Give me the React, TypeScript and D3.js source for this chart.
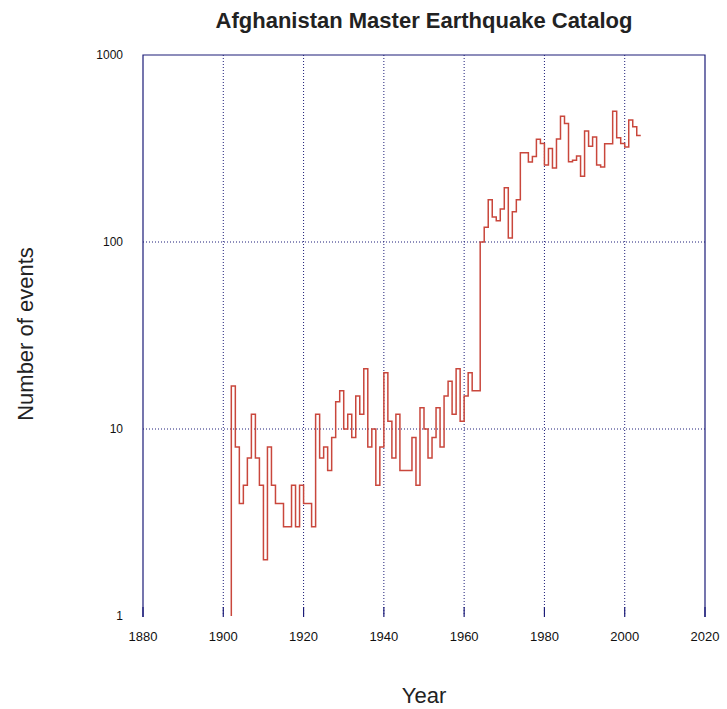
import { useEffect, useRef } from "react";
import * as d3 from "d3";

// Number of events per year
const years = d3.range(1902, 2004);
const counts = [
  17, 8, 4, 5, 7, 12, 7, 5, 2, 8, // 1902-1911
  5, 4, 4, 3, 3, 5, 3, 5, 4, 4, // 1912-1921
  3, 12, 7, 8, 6, 9, 14, 16, 10, 12, // 1922-1931
  9, 15, 12, 21, 8, 10, 5, 8, 20, 11, // 1932-1941
  7, 12, 6, 6, 6, 9, 5, 13, 10, 7, // 1942-1951
  9, 13, 8, 15, 18, 12, 21, 11, 15, 20, // 1952-1961
  16, 16, 100, 120, 168, 136, 130, 150, 195, 105, // 1962-1971
  145, 168, 300, 300, 268, 287, 354, 336, 258, 316, // 1972-1981
  249, 355, 470, 430, 269, 274, 288, 225, 392, 325, // 1982-1991
  364, 258, 252, 335, 335, 500, 361, 336, 322, 449, // 1992-2001
  413, 371, // 2002-2003
];
const xTicks = [1880, 1900, 1920, 1940, 1960, 1980, 2000, 2020];
const yTicks = [1, 10, 100, 1000];

const App = () => {
  const svgRef = useRef(null);

  useEffect(() => {
    d3.select(svgRef.current).selectAll("*").remove();

    const width = 727;
    const height = 709;
    const left = 143;
    const right = 705;
    const top = 55;
    const bottom = 616;
    const frame = "#1c1c78";
    const font = "'Liberation Sans', Arial, sans-serif";

    const x = d3.scaleLinear().domain([1880, 2020]).range([left, right]);
    const y = d3.scaleLog().domain([1, 1000]).range([bottom, top]);

    const svg = d3
      .select(svgRef.current)
      .attr("width", width)
      .attr("height", height);

    // dotted grid
    svg
      .append("g")
      .selectAll("line")
      .data(xTicks.slice(1, -1))
      .join("line")
      .attr("x1", (d) => x(d))
      .attr("x2", (d) => x(d))
      .attr("y1", top)
      .attr("y2", bottom)
      .attr("stroke", frame)
      .attr("stroke-width", 1)
      .attr("stroke-dasharray", "1,2");

    svg
      .append("g")
      .selectAll("line")
      .data(yTicks.slice(1, -1))
      .join("line")
      .attr("x1", left)
      .attr("x2", right)
      .attr("y1", (d) => y(d))
      .attr("y2", (d) => y(d))
      .attr("stroke", frame)
      .attr("stroke-width", 1)
      .attr("stroke-dasharray", "1,2");

    // short solid ticks at the bottom
    svg
      .append("g")
      .selectAll("line")
      .data(xTicks)
      .join("line")
      .attr("x1", (d) => x(d))
      .attr("x2", (d) => x(d))
      .attr("y1", bottom - 9)
      .attr("y2", bottom + 1)
      .attr("stroke", frame)
      .attr("stroke-width", 1.2);

    // frame (no bottom edge)
    svg
      .append("path")
      .attr("d", `M${left},${bottom + 1}V${top}H${right}V${bottom + 1}`)
      .attr("fill", "none")
      .attr("stroke", frame)
      .attr("stroke-width", 1.2);

    // step line: each year spans [year, year + 1]
    const pts: [number, number][] = [[years[0], 1]];
    years.forEach((yr, i) => {
      pts.push([yr, counts[i]]);
      pts.push([yr + 1, counts[i]]);
    });
    const line = d3
      .line<[number, number]>()
      .x((d) => x(d[0]))
      .y((d) => y(d[1]));

    svg
      .append("path")
      .datum(pts)
      .attr("fill", "none")
      .attr("stroke", "#c9473c")
      .attr("stroke-width", 1.5)
      .attr("d", line);

    // tick labels
    svg
      .append("g")
      .selectAll("text")
      .data(xTicks)
      .join("text")
      .attr("x", (d) => x(d))
      .attr("y", 641)
      .attr("text-anchor", "middle")
      .attr("font-family", font)
      .attr("font-size", 13)
      .attr("fill", "#111")
      .text((d) => d);

    svg
      .append("g")
      .selectAll("text")
      .data(yTicks)
      .join("text")
      .attr("x", 123)
      .attr("y", (d) => y(d) + 4)
      .attr("text-anchor", "end")
      .attr("font-family", font)
      .attr("font-size", 12)
      .attr("fill", "#111")
      .text((d) => d);

    // title and axis labels
    svg
      .append("text")
      .attr("x", 424)
      .attr("y", 28)
      .attr("text-anchor", "middle")
      .attr("font-family", font)
      .attr("font-weight", "bold")
      .attr("font-size", 22)
      .attr("fill", "#222")
      .text("Afghanistan Master Earthquake Catalog");

    svg
      .append("text")
      .attr("x", 424)
      .attr("y", 703)
      .attr("text-anchor", "middle")
      .attr("font-family", font)
      .attr("font-size", 22)
      .attr("fill", "#222")
      .text("Year");

    svg
      .append("text")
      .attr("x", -334)
      .attr("y", 33)
      .attr("text-anchor", "middle")
      .attr("transform", "rotate(-90)")
      .attr("font-family", font)
      .attr("font-size", 22)
      .attr("fill", "#222")
      .text("Number of events");
  }, []);

  return (
    <svg
      ref={svgRef}
      style={{ position: "absolute", left: 0, top: 0, background: "#fff" }}
    ></svg>
  );
};

export default App;
